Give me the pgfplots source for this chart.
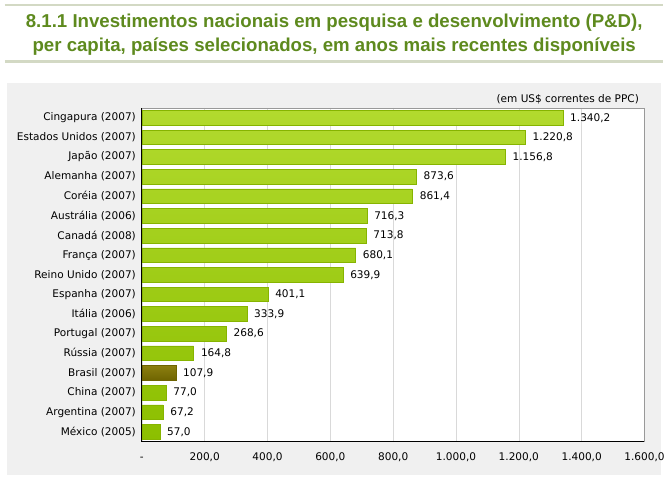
\documentclass[border=0pt]{standalone}
\usepackage{pgfplots}
\pgfplotsset{compat=1.18}
\usepackage{fontspec}
\setmainfont{DejaVu Sans}
\newfontfamily\titlefont{Liberation Sans}
\definecolor{titlegreen}{HTML}{5E8A1E}
\definecolor{rulegreen}{HTML}{D3D9C4}
\definecolor{panelgray}{HTML}{F0F0F0}
\definecolor{barA}{HTML}{B2DA2E}
\definecolor{barB}{HTML}{8CBF00}
\definecolor{barline}{HTML}{86B400}
\definecolor{brA}{HTML}{8C7F10}
\definecolor{brB}{HTML}{6E6400}
\definecolor{gridgray}{HTML}{D9D9D9}

\begin{document}
\begin{tikzpicture}[x=0.75pt,y=0.75pt]
  % page frame and gray panel (pixel units, y measured from bottom)
  \fill[white] (0,0) rectangle (669,477);
  \fill[panelgray] (7,2) rectangle (662,394);
  \draw[rulegreen,line width=2.2pt] (5,472) -- (664,472);
  \draw[rulegreen,line width=2.2pt] (5,415) -- (664,415);
  \node[font=\titlefont\bfseries\fontsize{14pt}{18pt}\selectfont,
        text=titlegreen,align=center] at (334.5,442.5)
    {8.1.1 Investimentos nacionais em pesquisa e desenvolvimento (P\&D),\\
     per capita, países selecionados, em anos mais recentes disponíveis};

  \begin{axis}[
      at={(106.5pt,26.25pt)}, anchor=south west,
      scale only axis,
      width=377.25pt, height=250.5pt,
      xbar, bar width=11pt, bar shift=0pt,
      xmin=0, xmax=1600,
      ymin=-0.5, ymax=16.5,
      y dir=reverse,
      axis background/.style={fill=white},
      axis line style={draw=none},
      xtick={0,200,400,600,800,1000,1200,1400,1600},
      xticklabels={{\vphantom{0}-},{200,0},{400,0},{600,0},{800,0},{1.000,0},{1.200,0},{1.400,0},{1.600,0}},
      ytick={0,...,16},
      yticklabels={Cingapura (2007),Estados Unidos (2007),Japão (2007),Alemanha (2007),
        Coréia (2007),Austrália (2006),Canadá (2008),França (2007),Reino Unido (2007),
        Espanha (2007),Itália (2006),Portugal (2007),Rússia (2007),Brasil (2007),
        China (2007),Argentina (2007),México (2005)},
      major tick length=0pt,
      xmajorgrids, grid style={gridgray},
      tick label style={font=\fontsize{7.9pt}{9pt}\selectfont},
      xticklabel style={yshift=-5pt},
      yticklabel style={xshift=-1pt},
      point meta=x,
      nodes near coords,
      nodes near coords style={font=\fontsize{7.9pt}{9pt}\selectfont,
        anchor=west, xshift=2pt,
        /pgf/number format/.cd, fixed, fixed zerofill, precision=1,
        use comma, 1000 sep={.}, assume math mode=true},
      clip=false,
    ]
    \addplot[draw=barline, top color=barA, bottom color=barB] coordinates {
      (1340.2,0) (1220.8,1) (1156.8,2) (873.6,3) (861.4,4) (716.3,5)
      (713.8,6) (680.1,7) (639.9,8) (401.1,9) (333.9,10) (268.6,11)
      (164.8,12) (77.0,14) (67.2,15) (57.0,16)
    };
    \addplot[draw=brB, top color=brA, bottom color=brB] coordinates {
      (107.9,13)
    };
    \draw[gray!80] (rel axis cs:0,1) -- (rel axis cs:1,1) -- (rel axis cs:1,0);
    \draw[black,line width=0.8pt] (rel axis cs:0,0) -- (rel axis cs:0,1);
    \draw[black,line width=0.8pt] (rel axis cs:0,0) -- (rel axis cs:1,0);
    \node[anchor=south east,font=\fontsize{7.9pt}{9pt}\selectfont,inner sep=0pt]
      at ([yshift=3pt,xshift=-4pt]rel axis cs:1,1) {(em US\$ correntes de PPC)};
  \end{axis}
\end{tikzpicture}
\end{document}
